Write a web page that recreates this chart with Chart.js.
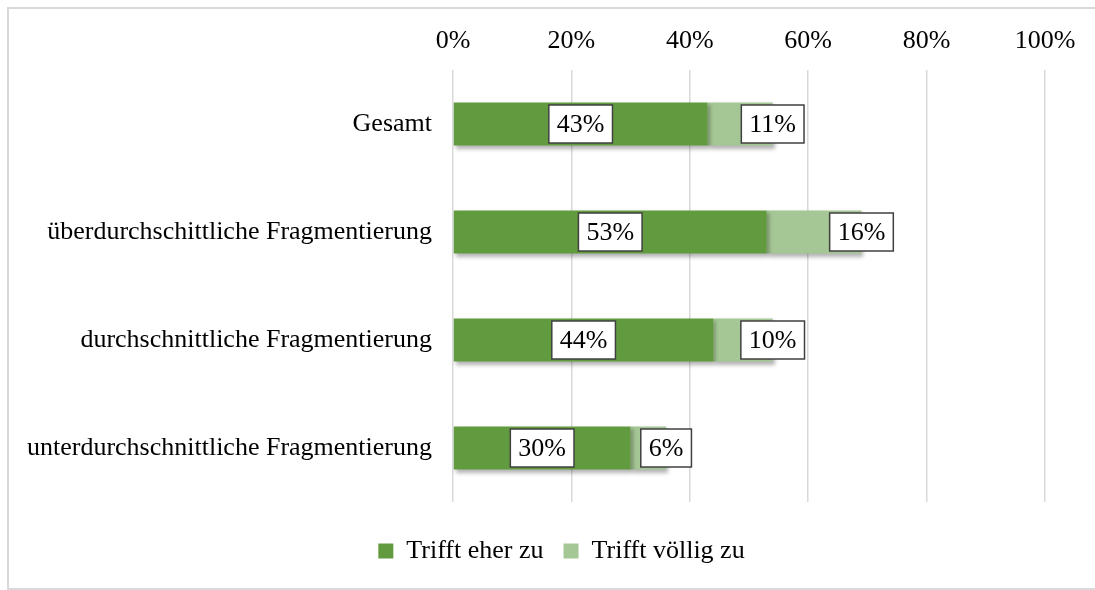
<!DOCTYPE html>
<html>
<head>
<meta charset="utf-8">
<script src="https://cdn.jsdelivr.net/npm/chart.js@4"></script>
<style>
  html, body { margin: 0; padding: 0; background: #fff; overflow: hidden; }
  #wrap { position: absolute; left: 0; top: 0; width: 1095px; height: 590px; }
</style>
</head>
<body>
<div id="wrap"><canvas id="barChart" width="1095" height="590"></canvas></div>
<script>
const categories = [
    'Gesamt',
    'überdurchschittliche Fragmentierung',
    'durchschnittliche Fragmentierung',
    'unterdurchschnittliche Fragmentierung'
];
const eherZu = [43, 53, 44, 30];
const voelligZu = [11, 16, 10, 6];
const seriesNames = ['Trifft eher zu', 'Trifft völlig zu'];
const tickValues = [0, 20, 40, 60, 80, 100];

const FONT = "'Liberation Serif', 'Times New Roman', serif";
const FSIZE = 26;

// frame + shadow + value boxes
const decor = {
    id: 'decor',
    afterLayout(chart) {
        // legend is centred on the whole frame, not the canvas
        chart.legend.left += 39;
        chart.legend.right += 39;
        chart.legend.top += 16;
        chart.legend.bottom += 16;
    },
    beforeDraw(chart) {
        const ctx = chart.ctx;
        ctx.save();
        ctx.strokeStyle = '#d9d9d9';
        ctx.lineWidth = 2;
        ctx.strokeRect(8, 8, 1200, 581);
        ctx.restore();
    },
    beforeDatasetsDraw(chart) {
        const ctx = chart.ctx;
        ctx.save();
        ctx.shadowColor = 'rgba(0,0,0,0.3)';
        ctx.shadowBlur = 4;
        ctx.shadowOffsetX = 2;
        ctx.shadowOffsetY = 3;
    },
    afterDatasetsDraw(chart) {
        const ctx = chart.ctx;
        ctx.restore();
        ctx.save();
        ctx.font = FSIZE + 'px ' + FONT;
        ctx.textAlign = 'center';
        ctx.textBaseline = 'middle';
        chart.data.datasets.forEach((ds, di) => {
            chart.getDatasetMeta(di).data.forEach((bar, i) => {
                const txt = ds.data[i] + '%';
                const w = ctx.measureText(txt).width + 16;
                const h = 38;
                let cx;
                if (di === 0) cx = (bar.base + bar.x) / 2;
                else cx = bar.x;
                const cy = bar.y;
                ctx.fillStyle = '#fff';
                ctx.fillRect(cx - w / 2, cy - h / 2, w, h);
                ctx.strokeStyle = '#404040';
                ctx.lineWidth = 1.5;
                ctx.strokeRect(cx - w / 2, cy - h / 2, w, h);
                ctx.fillStyle = '#000';
                ctx.fillText(txt, cx, cy + 1);
            });
        });
        ctx.restore();
    }
};

const ctx = document.getElementById('barChart').getContext('2d');
new Chart(ctx, {
    type: 'bar',
    data: {
        labels: categories,
        datasets: [{
            label: seriesNames[0],
            data: eherZu,
            backgroundColor: '#629b3f',
            barPercentage: 0.4,
            categoryPercentage: 1
        }, {
            label: seriesNames[1],
            data: voelligZu,
            backgroundColor: '#a5c795',
            barPercentage: 0.4,
            categoryPercentage: 1
        }]
    },
    options: {
        indexAxis: 'y',
        responsive: false,
        animation: false,
        layout: { padding: { left: 0, right: 50, top: 0, bottom: 32 } },
        scales: {
            x: {
                position: 'top',
                stacked: true,
                min: 0,
                max: 100,
                afterBuildTicks(scale) {
                    scale.ticks = tickValues.map(v => ({ value: v }));
                },
                afterFit(scale) { scale.height = 70; },
                grid: { color: '#d9d9d9', lineWidth: 1.5, drawTicks: false },
                border: { display: false },
                ticks: {
                    padding: 13,
                    color: '#000',
                    font: { family: FONT, size: FSIZE },
                    callback: v => v + '%'
                }
            },
            y: {
                stacked: true,
                afterFit(scale) { scale.width = 453; },
                grid: { display: false, drawTicks: false },
                border: { display: false },
                ticks: {
                    padding: 21,
                    color: '#000',
                    font: { family: FONT, size: FSIZE }
                }
            }
        },
        plugins: {
            legend: {
                position: 'bottom',
                labels: {
                    color: '#000',
                    boxWidth: 15,
                    boxHeight: 15,
                    padding: 20,
                    font: { family: FONT, size: FSIZE }
                }
            },
            tooltip: { enabled: false }
        }
    },
    plugins: [decor]
});
</script>
</body>
</html>
